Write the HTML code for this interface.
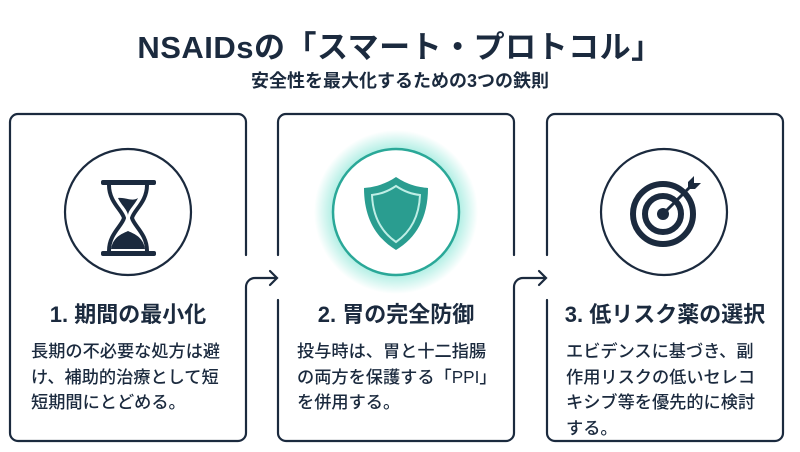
<!DOCTYPE html>
<html><head><meta charset="utf-8"><style>
body{margin:0;width:800px;height:452px;background:#fff;font-family:"Liberation Sans","Noto Sans CJK JP",sans-serif;color:#1b2a3e;position:relative;overflow:hidden}
.t{position:absolute;left:0;width:800px;text-align:center;font-weight:bold}
.h{position:absolute;font-size:22px;font-weight:bold;text-align:center;width:236px}
.b{position:absolute;font-size:17.2px;line-height:25.5px;width:196px;font-weight:500}
</style></head><body>
<div class="t" style="top:22px;font-size:31px;letter-spacing:0.5px">NSAIDsの「スマート・プロトコル」</div>
<div class="t" style="top:67px;font-size:18px">安全性を最大化するための3つの鉄則</div>
<svg width="800" height="452" style="position:absolute;left:0;top:0">
<defs><radialGradient id="g"><stop offset="0.6" stop-color="#3fd6bd" stop-opacity="0.7"/><stop offset="1" stop-color="#3fd6bd" stop-opacity="0"/></radialGradient></defs>
<g fill="none" stroke="#1b2a3e" stroke-width="2.2" stroke-linecap="round">
<path d="M246,255 V122 a8,8 0 0 0 -8,-8 H18 a8,8 0 0 0 -8,8 V433 a8,8 0 0 0 8,8 H238 a8,8 0 0 0 8,-8 V287 a9,9 0 0 1 9,-9 H276"/>
<path d="M270,271 L277,278 L270,285"/>
<path d="M278,255 V122 a8,8 0 0 1 8,-8 H506 a8,8 0 0 1 8,8 V255 M278,300 V433 a8,8 0 0 0 8,8 H506 a8,8 0 0 0 8,-8 V287 a9,9 0 0 1 9,-9 H545"/>
<path d="M539,271 L546,278 L539,285"/>
<path d="M547,255 V122 a8,8 0 0 1 8,-8 H775 a8,8 0 0 1 8,8 V433 a8,8 0 0 1 -8,8 H555 a8,8 0 0 1 -8,-8 V300"/>
<circle cx="128" cy="212" r="63"/>
<circle cx="664" cy="212" r="63"/>
</g>
<circle cx="396" cy="212" r="82" fill="url(#g)"/>
<circle cx="396" cy="212" r="63" fill="#fff" stroke="#2aa898" stroke-width="2.5"/>
<path d="M396,177 C384,185 374,187 364,188 C364,218 376,238 396,250 C416,238 428,218 428,188 C418,187 408,185 396,177Z" fill="#2a9d90"/>
<path d="M396,186 C387,192 380,194 372,195 C373,219 383,233 396,242 C409,233 419,219 420,195 C412,194 405,192 396,186Z" fill="none" stroke="#bfeee6" stroke-width="2"/>
<!-- hourglass -->
<g fill="#1b2a3e">
<rect x="101" y="180" width="55" height="5" rx="2"/><rect x="101" y="251" width="55" height="5" rx="2"/>
<path d="M109,185 C109,202 122,210 124,218 C122,226 109,234 109,251 M147,185 C147,202 134,210 132,218 C134,226 147,234 147,251" fill="none" stroke="#1b2a3e" stroke-width="4"/>
<path d="M118,198 C125,197 132,202 138,198 C134,206 128,210 128,216 C128,210 121,205 118,198Z"/>
<path d="M111,249 C113,236 124,233 128,231 C132,233 143,236 145,249Z"/>
</g>
<!-- target -->
<g fill="none" stroke="#1b2a3e" stroke-width="6">
<circle cx="663" cy="214" r="30"/><circle cx="663" cy="214" r="18"/>
</g>
<circle cx="663" cy="214" r="6" fill="#1b2a3e"/>
<path d="M663,214 L692,185" stroke="#1b2a3e" stroke-width="3"/>
<path d="M688,182 L694,176 L694,183 L701,183 L695,189 L688,189Z" fill="#1b2a3e"/>
</svg>
<div class="h" style="left:10px;top:297px">1. 期間の最小化</div>
<div class="h" style="left:278px;top:297px">2. 胃の完全防御</div>
<div class="h" style="left:547px;top:297px">3. 低リスク薬の選択</div>
<div class="b" style="left:31px;top:339px">長期の不必要な処方は避け、補助的治療として短短期間にとどめる。</div>
<div class="b" style="left:297px;top:339px">投与時は、胃と十二指腸の両方を保護する「PPI」を併用する。</div>
<div class="b" style="left:566px;top:339px">エビデンスに基づき、副作用リスクの低いセレコキシブ等を優先的に検討する。</div>
</body></html>
